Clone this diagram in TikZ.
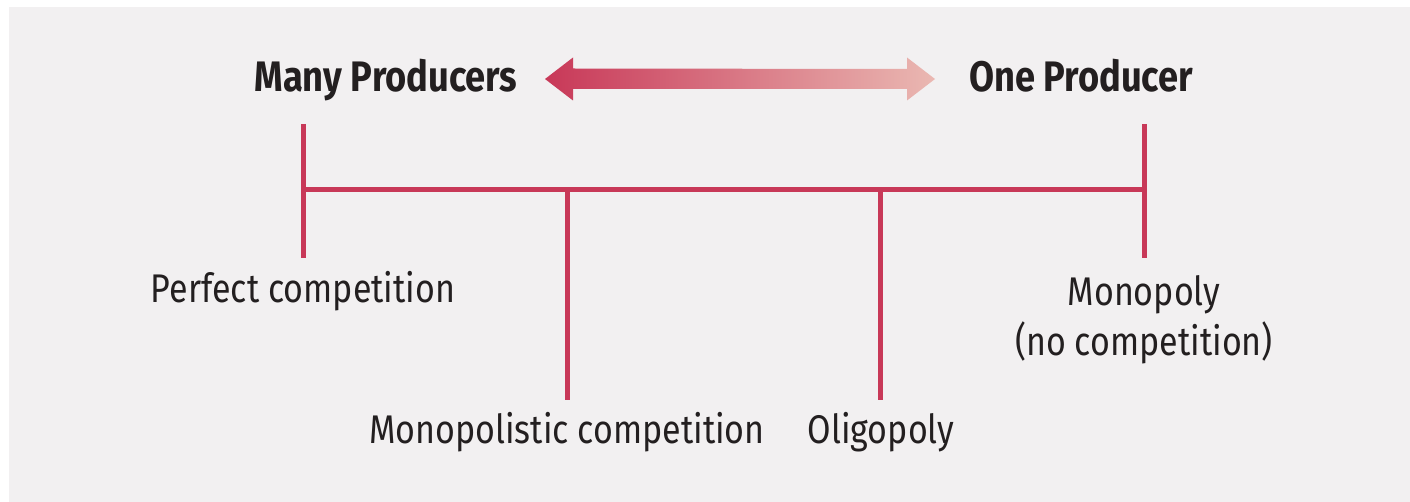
\documentclass[tikz,border=0pt]{standalone}
\usepackage{fontspec}
\setmainfont{Fira Sans}[FakeStretch=0.85]
\usetikzlibrary{positioning, calc}
\definecolor{CR}{RGB}{200,56,88}
\definecolor{LP}{RGB}{234,184,178}
\definecolor{BG}{RGB}{242,240,241}
\definecolor{DG}{RGB}{35,31,32}

\begin{document}
\begin{tikzpicture}[x=0.75pt, y=-0.75pt,
  lbl/.style={font=\fontsize{30}{37.5}\selectfont, text=DG,
              inner sep=0pt, anchor=base, align=center},
  hdr/.style={lbl, font=\fontsize{32}{38}\selectfont\bfseries},
  tick/.style={draw=CR, line width=3.75pt}
]
\fill[BG] (9,7) rectangle (1410,502);
\useasboundingbox (0,0) rectangle (1410,502);

% headings and the gradient arrow
\node[hdr] (many) at (386,92) {Many Producers};
\node[hdr] (one)  at (1081,92) {One Producer};
\coordinate (al) at (545,79);
\coordinate (ar) at (935,79);
\shade[left color=CR, right color=LP]
  (al) -- ++(28,-21.5) -- ++(0,11) -- ($(ar)+(-28,-10)$) -- ++(0,-11.5)
  -- (ar) -- ++(-28,21.5) -- ++(0,-11.5) -- ($(al)+(28,10)$) -- ++(0,11.5) -- cycle;

% the scale
\coordinate (ltop) at (303,124);
\coordinate (lmid) at (303,190);
\coordinate (lbot) at (303,258);
\coordinate (rtop) at (1144,124);
\coordinate (rmid) at (1144,190);
\coordinate (rbot) at (1144,258);
\coordinate (m1)   at (567,190);
\coordinate (m1b)  at (567,400);
\coordinate (m2)   at (880,190);
\coordinate (m2b)  at (880,400);
\draw[tick] (ltop) -- (lbot);
\draw[tick] (rtop) -- (rbot);
\draw[tick] (lmid) -- (rmid);
\draw[tick] (m1) -- (m1b);
\draw[tick] (m2) -- (m2b);

% market types
\node[lbl] (perfect)      at (303,303)  {Perfect competition};
\node[lbl] (monopolistic) at (567,443)  {Monopolistic competition};
\node[lbl] (oligopoly)    at (881,443)  {Oligopoly};
\node[lbl] (monopoly)     at (1144,355) {Monopoly\\(no competition)};
\end{tikzpicture}
\end{document}
